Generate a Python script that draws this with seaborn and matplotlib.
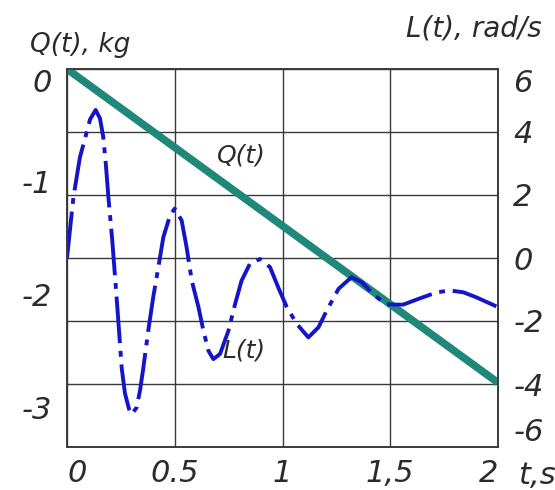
import matplotlib
matplotlib.use("Agg")
import matplotlib.pyplot as plt
import seaborn as sns

# L(t), rad/s  (right axis)
t_L = [0.0, 0.03, 0.06, 0.084, 0.107, 0.133, 0.153, 0.168, 0.18, 0.192, 0.21, 0.223, 0.235,
       0.254, 0.269, 0.288, 0.30, 0.323, 0.339, 0.354, 0.377, 0.40, 0.424, 0.447, 0.478, 0.50,
       0.532, 0.555, 0.579, 0.61, 0.633, 0.656, 0.679, 0.71, 0.749, 0.78, 0.81, 0.849,
       0.896, 0.942, 0.98, 1.02, 1.066, 1.12, 1.167, 1.205, 1.26, 1.32, 1.368, 1.42,
       1.476, 1.515, 1.56, 1.63, 1.716, 1.777, 1.84, 1.90, 2.0]
L_vals = [0.0, 1.94, 3.2, 3.8, 4.4, 4.7, 4.43, 3.85, 3.0, 1.94, 0.56, -0.6, -1.7,
          -3.5, -4.3, -4.8, -4.96, -4.75, -4.2, -3.5, -2.31, -1.25, -0.29, 0.66, 1.35, 1.57,
          1.19, 0.34, -0.72, -1.56, -2.31, -2.94, -3.21, -3.05, -2.31, -1.46, -0.72, -0.18,
          -0.03, -0.29, -0.93, -1.56, -2.09, -2.52, -2.2, -1.67, -0.98, -0.61, -0.77, -1.14,
          -1.46, -1.48, -1.48, -1.30, -1.09, -1.03, -1.09, -1.25, -1.56]

# Q(t), kg  (left axis)
t_Q = [0.0, 2.0]
Q_vals = [0.0, -2.78]

x_ticks = [0, 0.5, 1, 1.5, 2]
x_labels = ["0", "0.5", "1", "1,5", "2"]
q_ticks = [0, -1, -2, -3]
q_labels = ["0", "-1", "-2", "-3"]
l_ticks = [6, 4, 2, 0, -2, -4, -6]
l_labels = ["6", "4", "2", "0", "-2", "-4", "-6"]

sns.set_style("white")
plt.rcParams["font.family"] = ["DejaVu Sans"]
plt.rcParams["axes.unicode_minus"] = False

txt_c = "#2b2b2b"
grid_c = "#3a3a3a"
blue = "#1414c8"
teal = "#1f8878"

fig = plt.figure(figsize=(5.55, 4.9), dpi=100)
ax = fig.add_axes([67 / 555, 1 - 447 / 490, 431 / 555, 378 / 490])
ax2 = ax.twinx()

ax.set_xlim(0, 2)
ax.set_ylim(-3.35, 0)
ax2.set_ylim(-6, 6)

# Q drawn in ax2 (so it sits above the grid) but in the kg scale of ax
sns.lineplot(x=t_Q, y=Q_vals, ax=ax2, color=teal, lw=5.5, transform=ax.transData,
             solid_capstyle="butt", errorbar=None)
sns.lineplot(x=t_L, y=L_vals, ax=ax2, color=blue, lw=2.8, linestyle=(0, (12, 2, 1.5, 2)),
             errorbar=None)
ax2.set_ylim(-6, 6)
ax.set_xlim(0, 2)

for a in (ax, ax2):
    a.set_xlabel("")
    a.set_ylabel("")
    for s in a.spines.values():
        s.set_visible(True)
        s.set_color(grid_c)
        s.set_linewidth(1.2)

ax.set_xticks(x_ticks)
ax.set_xticklabels(x_labels, fontsize=22, style="oblique", color=txt_c)
ax.set_yticks(q_ticks)
ax.set_yticklabels(q_labels, fontsize=22, style="oblique", color=txt_c)
ax2.set_yticks(l_ticks)
ax2.set_yticklabels(l_labels, fontsize=22, style="oblique", color=txt_c)

ax.grid(axis="x", color=grid_c, lw=1.0)
ax.grid(axis="y", visible=False)
ax2.grid(axis="y", color=grid_c, lw=1.0)
ax2.grid(axis="x", visible=False)

ax.tick_params(axis="x", length=0, pad=9)
ax.tick_params(axis="y", length=0, pad=11)
ax2.tick_params(axis="y", length=0, pad=11)

xl = ax.get_xticklabels()
xl[0].set_ha("left")
xl[-1].set_ha("right")
ax.get_yticklabels()[0].set_va("top")
rl = ax2.get_yticklabels()
rl[0].set_va("top")
rl[-1].set_va("bottom")

# label box hides the grid line but stays under the curves
ax2.text(0.81, 3.26, "Q(t)", fontsize=18, style="oblique", color=txt_c, zorder=1,
         ha="center", va="center", bbox=dict(facecolor="white", edgecolor="none", pad=5))
ax2.text(0.82, -2.94, "L(t)", fontsize=18, style="oblique", color=txt_c,
         ha="center", va="center")

fig.text(30 / 555, 1 - 45 / 490, "Q(t), kg", fontsize=19, style="oblique", color=txt_c,
         ha="left", va="center")
fig.text(542 / 555, 1 - 28 / 490, "L(t), rad/s", fontsize=20, style="oblique", color=txt_c,
         ha="right", va="center")
fig.text(518 / 555, 1 - 475 / 490, "t,s", fontsize=22, style="oblique", color=txt_c,
         ha="left", va="center")

fig.savefig("out.png", dpi=100, facecolor="white")
